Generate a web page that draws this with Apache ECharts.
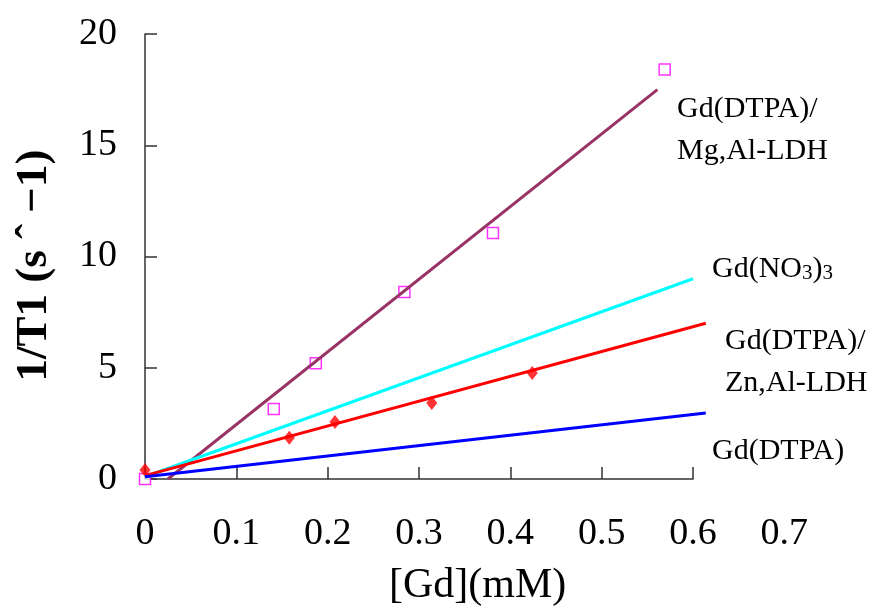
<!DOCTYPE html>
<html>
<head>
<meta charset="utf-8">
<script src="https://cdn.jsdelivr.net/npm/echarts@6/dist/echarts.min.js"></script>
<style>html,body{margin:0;padding:0;background:#fff}#c{width:879px;height:609px}</style>
</head>
<body>
<div id="c"></div>
<script>
// ---- data ----
var xTickLabels = ['0', '0.1', '0.2', '0.3', '0.4', '0.5', '0.6', '0.7'];
var yTickLabels = ['0', '5', '10', '15', '20'];

// fitted lines: [x, y] endpoints
var lineMgAl = [[0.025, 0], [0.561, 17.5]];
var lineNO3 = [[0, 0.1], [0.6, 9.0]];
var lineZnAl = [[0, 0.15], [0.614, 7.0]];
var lineDTPA = [[0, 0.1], [0.614, 2.97]];

// measured points
var ptsMgAl = [[0, 0], [0.141, 3.15], [0.187, 5.2], [0.284, 8.4], [0.381, 11.06], [0.569, 18.4]];
var ptsZnAl = [[0, 0.4], [0.158, 1.85], [0.208, 2.56], [0.314, 3.42], [0.424, 4.76]];

var labelFont = 'Liberation Serif';

var chart = echarts.init(document.getElementById('c'), null, {renderer: 'canvas'});
var option = {
  backgroundColor: '#fff',
  animation: false,
  grid: [
    {left: 145, top: 34, width: 548, height: 445, outerBoundsMode: 'none', containLabel: false},
    {left: 145, top: 34, width: 548 * 7 / 6, height: 445, outerBoundsMode: 'none', containLabel: false}
  ],
  xAxis: [
    {
      gridIndex: 0, type: 'value', min: 0, max: 0.6, interval: 0.1,
      axisLine: {show: true, lineStyle: {color: '#333', width: 1.5}},
      axisTick: {show: true, inside: true, length: 12, lineStyle: {color: '#333', width: 1.5}},
      axisLabel: {show: false},
      splitLine: {show: false}
    },
    {
      gridIndex: 1, type: 'value', min: 0, max: 0.7, interval: 0.1,
      axisLine: {show: false}, axisTick: {show: false},
      axisLabel: {
        show: true, margin: 36, color: '#000', fontFamily: labelFont, fontSize: 38,
        formatter: function (v) { return xTickLabels[Math.round(v * 10)]; }
      },
      splitLine: {show: false},
      name: '[Gd](mM)', nameLocation: 'middle', nameGap: 86,
      nameTextStyle: {color: '#000', fontFamily: labelFont, fontSize: 42, padding: [0, 0, 0, 26]}
    }
  ],
  yAxis: [
    {
      gridIndex: 0, type: 'value', min: 0, max: 20, interval: 5,
      axisLine: {show: true, lineStyle: {color: '#333', width: 1.5}},
      axisTick: {show: true, inside: true, length: 12, lineStyle: {color: '#333', width: 1.5}},
      axisLabel: {
        show: true, margin: 28, color: '#000', fontFamily: labelFont, fontSize: 38,
        formatter: function (v) { return yTickLabels[Math.round(v / 5)]; }
      },
      splitLine: {show: false},
      name: '1/T1 (s ˆ −1)', nameLocation: 'middle', nameGap: 88, nameRotate: 90,
      nameTextStyle: {color: '#000', fontFamily: labelFont, fontSize: 45, fontWeight: 'bold', padding: [0, 18, 0, 0]}
    },
    {
      gridIndex: 1, type: 'value', min: 0, max: 20, show: false
    }
  ],
  series: [
    {type: 'line', name: 'Gd(DTPA)/Mg,Al-LDH fit', data: lineMgAl, xAxisIndex: 1, yAxisIndex: 1,
     showSymbol: false, clip: false, lineStyle: {color: '#993366', width: 3}},
    {type: 'line', name: 'Gd(NO3)3 fit', data: lineNO3, xAxisIndex: 1, yAxisIndex: 1,
     showSymbol: false, clip: false, lineStyle: {color: '#00FFFF', width: 3}},
    {type: 'line', name: 'Gd(DTPA)/Zn,Al-LDH fit', data: lineZnAl, xAxisIndex: 1, yAxisIndex: 1,
     showSymbol: false, clip: false, lineStyle: {color: '#FF0000', width: 3}},
    {type: 'line', name: 'Gd(DTPA) fit', data: lineDTPA, xAxisIndex: 1, yAxisIndex: 1,
     showSymbol: false, clip: false, lineStyle: {color: '#0000FF', width: 3}},
    {type: 'scatter', name: 'Gd(DTPA)/Mg,Al-LDH', data: ptsMgAl, xAxisIndex: 1, yAxisIndex: 1,
     clip: false, symbol: 'rect', symbolSize: 11,
     itemStyle: {color: '#fff', borderColor: '#FF00FF', borderWidth: 1.5}},
    {type: 'scatter', name: 'Gd(DTPA)/Zn,Al-LDH', data: ptsZnAl, xAxisIndex: 1, yAxisIndex: 1,
     clip: false, symbol: 'diamond', symbolSize: [11, 14],
     itemStyle: {color: '#FF0000'}}
  ],
  graphic: [
    {type: 'text', left: 677, top: 88, style: {text: 'Gd(DTPA)/\nMg,Al-LDH', fill: '#000', font: '30px "Liberation Serif"', lineHeight: 42}},
    {type: 'text', left: 712, top: 254, style: {
      text: '{a|Gd(NO}{s|3}{a|)}{s|3}', fill: '#000',
      rich: {a: {fontFamily: labelFont, fontSize: 30, fill: '#000', verticalAlign: 'bottom', lineHeight: 34},
             s: {fontFamily: labelFont, fontSize: 21, fill: '#000', verticalAlign: 'bottom', lineHeight: 30}}
    }},
    {type: 'text', left: 725, top: 320, style: {text: 'Gd(DTPA)/\nZn,Al-LDH', fill: '#000', font: '30px "Liberation Serif"', lineHeight: 42}},
    {type: 'text', left: 712, top: 436, style: {text: 'Gd(DTPA)', fill: '#000', font: '30px "Liberation Serif"'}}
  ]
};
chart.setOption(option);
</script>
</body>
</html>
